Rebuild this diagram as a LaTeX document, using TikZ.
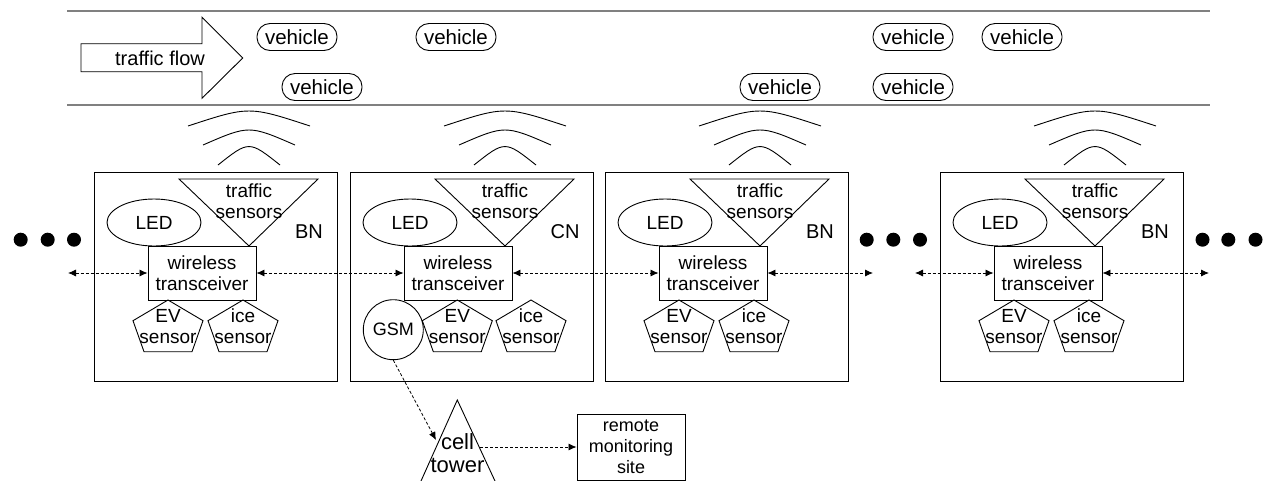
\documentclass[tikz,border=0pt]{standalone}
\usepackage{fontspec}
\setmainfont{Liberation Sans}
\usetikzlibrary{shapes.geometric,arrows.meta}
\newcommand\fA{\fontsize{19}{21}\selectfont}
\newcommand\fB{\fontsize{20.5}{22}\selectfont}
\newcommand\fC{\fontsize{20}{22}\selectfont}
\tikzset{
 ln/.style={line width=0.9pt},
 road/.style={line width=1.6pt, draw=gray},
 veh/.style={draw, line width=0.9pt, rounded corners=13pt, minimum width=80pt, minimum height=27pt, inner sep=0pt, font=\fB},
 dasharrow/.style={line width=0.8pt, dash pattern=on 3pt off 2pt, {Latex[length=8pt,width=7pt]}-{Latex[length=8pt,width=7pt]}},
 onearrow/.style={line width=0.8pt, dash pattern=on 3pt off 2pt, -{Latex[length=8pt,width=7pt]}},
 lbl/.style={font=\fA, align=center, inner sep=0pt},
 bigdot/.style={circle, fill, inner sep=0pt, minimum size=14pt},
}
\newcommand\makeunit[3]{%
\begin{scope}[shift={(#1,0)}]
 \node[draw, ln, anchor=north west, minimum width=243pt, minimum height=208.5pt, inner sep=0pt] (box#3) at (0,172) {};
 \draw[ln] (94,126) .. controls (155,106) .. (216,126);
 \draw[ln] (109,145) .. controls (155,125) .. (201,145);
 \draw[ln] (124,165) .. controls (155,140.4) .. (186,165);
 \draw[ln] (85,179) -- (224,179) -- (155,246) -- cycle;
 \node[lbl] (ts#3) at (155,201.5) {traffic\\sensors};
 \node[draw, ln, ellipse, minimum width=94pt, minimum height=47pt, inner sep=0pt, font=\fA] (led#3) at (60,222.5) {LED};
 \node[font=\fC, inner sep=0pt] (lab#3) at (215,232) {#2};
 \node[draw, ln, lbl, minimum width=108pt, minimum height=54pt] (wt#3) at (108,273) {wireless\\transceiver};
\end{scope}}
\newcommand\penta[3]{%
 \draw[ln] (#1,300) -- ++(35,20.7) -- ++(-11,31) -- ++(-48,0) -- ++(-11,-31) -- cycle;
 \node[lbl] (#2) at (#1,326.5) {#3\\sensor};}
\begin{document}
\begin{tikzpicture}[x=1pt,y=-1pt]
\useasboundingbox (0,0) rectangle (1263,480);
% road
\draw[road] (67,11) -- (1210,11);
\draw[road] (67,105) -- (1210,105);
\draw[ln] (81,43.7) -- (202,43.7) -- (202,17.3) -- (242.7,58) -- (202,98.3) -- (202,71.7) -- (81,71.7) -- cycle;
\node[font=\fC, inner sep=0pt] (tf) at (160,58) {traffic flow};
\node[veh] (v1) at (297,37) {vehicle};
\node[veh] (v2) at (322,87) {vehicle};
\node[veh] (v3) at (456,37) {vehicle};
\node[veh] (v4) at (780,87) {vehicle};
\node[veh] (v5) at (913,37) {vehicle};
\node[veh] (v6) at (913,87) {vehicle};
\node[veh] (v7) at (1022,37) {vehicle};
% units
\makeunit{94}{BN}{1}
\makeunit{350}{CN}{2}
\makeunit{605}{BN}{3}
\makeunit{940}{BN}{4}
\penta{168}{ev1}{EV}
\penta{243}{ice1}{ice}
\penta{457.3}{ev2}{EV}
\penta{531}{ice2}{ice}
\penta{679}{ev3}{EV}
\penta{754}{ice3}{ice}
\penta{1014}{ev4}{EV}
\penta{1089}{ice4}{ice}
\node[draw, ln, circle, minimum size=60pt, inner sep=0pt, font=\fontsize{18}{20}\selectfont] (gsm) at (393.3,329.7) {GSM};
% dots
\foreach \x/\n in {20.7/1,47.7/2,74/3,866.7/4,893.3/5,920/6,1202.5/7,1228.3/8,1255.5/9}
  \node[bigdot] (d\n) at (\x,239.7) {};
% links
\coordinate (a0) at (68,273);
\coordinate (a3) at (873,273);
\coordinate (a4) at (915,273);
\coordinate (a5) at (1209,273);
\draw[dasharrow] (a0) -- (wt1.west);
\draw[dasharrow] (wt1.east) -- (wt2.west);
\draw[dasharrow] (wt2.east) -- (wt3.west);
\draw[dasharrow] (wt3.east) -- (a3);
\draw[dasharrow] (a4) -- (wt4.west);
\draw[dasharrow] (wt4.east) -- (a5);
% cell tower and remote site
\draw[ln] (421,481) -- (457.3,400) -- (495,481);
\node[font=\fontsize{22}{23}\selectfont, align=center, inner sep=0pt] (tower) at (457.5,453.5) {cell\\tower};
\node[draw, ln, minimum width=108pt, minimum height=66pt, inner sep=0pt, align=center, font=\fontsize{18}{21}\selectfont] (rms) at (631,447) {remote\\monitoring\\site};
\coordinate (twl) at (436,440);
\coordinate (twr) at (480,447);
\draw[onearrow] (gsm.south) -- (twl);
\draw[onearrow] (twr) -- (rms.west);
\end{tikzpicture}
\end{document}
